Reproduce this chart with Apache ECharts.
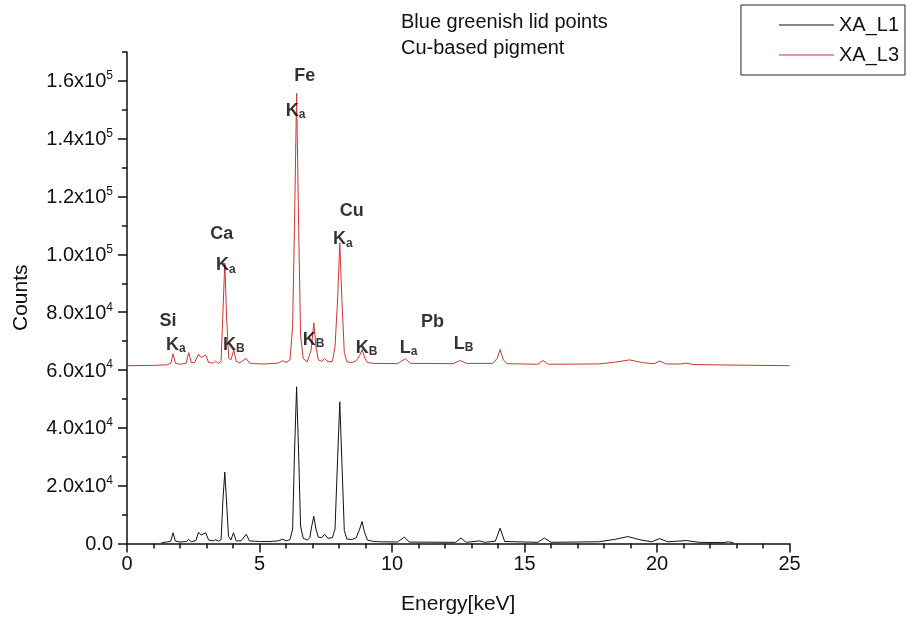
<!DOCTYPE html>
<html>
<head>
<meta charset="utf-8">
<script src="https://cdn.jsdelivr.net/npm/echarts@6/dist/echarts.min.js"></script>
<style>html,body{margin:0;padding:0;background:#fff}#c{width:912px;height:626px}</style>
</head>
<body>
<div id="c"></div>
<script>
// ---- data ----
// XA_L1 spectrum: [energy keV, counts]
var xaL1 = [
  [1.30,300],[1.50,500],[1.65,800],[1.74,3700],[1.82,900],[2.00,500],[2.25,700],[2.33,1400],[2.42,600],
  [2.60,1000],[2.70,3900],[2.80,2900],[2.97,3700],[3.08,1200],[3.25,900],[3.34,1300],[3.45,800],
  [3.55,1300],[3.62,15000],[3.69,24700],[3.76,14000],[3.83,2500],[3.92,1200],[4.02,3700],[4.12,900],
  [4.30,900],[4.50,3200],[4.62,900],[4.80,800],[5.00,700],[5.40,700],[5.70,900],[5.88,1500],[6.00,900],
  [6.15,1300],[6.25,5000],[6.32,31000],[6.40,54200],[6.48,30000],[6.55,6000],[6.65,1800],[6.80,1200],
  [6.90,2000],[6.97,6000],[7.05,9400],[7.13,5000],[7.22,2200],[7.35,2000],[7.46,3200],[7.58,1800],
  [7.75,2000],[7.85,5000],[7.95,30000],[8.03,49000],[8.11,28000],[8.20,4500],[8.30,1500],[8.50,1400],
  [8.65,2000],[8.78,5000],[8.87,7600],[8.96,4000],[9.07,1200],[9.30,700],[9.50,600],[10.20,500],
  [10.47,2200],[10.65,500],[12.40,400],[12.60,1900],[12.80,400],[13.30,900],[13.50,400],[13.90,800],
  [14.08,5300],[14.25,700],[15.50,400],[15.75,1900],[16.00,400],[17.80,600],[18.40,1400],[18.90,2400],
  [19.40,1200],[19.80,600],[20.10,1700],[20.40,600],[21.10,1000],[21.60,400],[22.50,300],[22.70,600],
  [22.90,200]
];
// XA_L3 spectrum: [energy keV, counts]
var xaL3 = [
  [0.00,61500],[1.00,61600],[1.50,61800],[1.65,62300],[1.74,65600],[1.83,62300],[2.00,62000],[2.23,62300],
  [2.33,66000],[2.43,62500],[2.55,62600],[2.70,65400],[2.80,64300],[2.97,65200],[3.08,62600],[3.25,62400],
  [3.34,63100],[3.45,62300],[3.55,63000],[3.62,80000],[3.69,97000],[3.76,78000],[3.84,64000],[3.92,63500],
  [4.03,67000],[4.12,63000],[4.25,62500],[4.50,64000],[4.62,62400],[4.80,62200],[5.20,62100],[5.70,62400],
  [5.88,63200],[6.00,62600],[6.15,63500],[6.25,75000],[6.32,110000],[6.40,155700],[6.48,108000],[6.55,72000],
  [6.65,64000],[6.80,62800],[6.95,67000],[7.05,76300],[7.13,68000],[7.22,63500],[7.35,63000],[7.46,64000],
  [7.58,62800],[7.75,63000],[7.85,68000],[7.95,85000],[8.03,104000],[8.11,84000],[8.20,66000],[8.30,62800],
  [8.50,62600],[8.65,63200],[8.78,65000],[8.87,67100],[8.96,64500],[9.07,62600],[9.30,62300],[10.20,62200],
  [10.50,63900],[10.70,62300],[12.30,62200],[12.58,63300],[12.80,62300],[13.80,62300],[13.97,64000],
  [14.08,67100],[14.20,63500],[14.35,62200],[15.50,62000],[15.70,63300],[15.90,62000],[17.80,62100],
  [18.40,62700],[18.96,63500],[19.50,62500],[19.90,62200],[20.10,63100],[20.35,62100],[20.90,62100],
  [21.07,62400],[21.40,61900],[23.00,61700],[25.00,61500]
];
var seriesNames = ['XA_L1', 'XA_L3'];
var titleLines = ['Blue greenish lid points', 'Cu-based pigment'];
var yMajorTicks = [0, 20000, 40000, 60000, 80000, 100000, 120000, 140000, 160000];
var xTicks = [0, 5, 10, 15, 20, 25];
// peak annotations: element names and emission lines
var elemX = [1.55, 3.58, 6.71, 8.48, 11.53];
var elemY = [77000, 107000, 161800, 115000, 76600];
var elemText = ['Si', 'Ca', 'Fe', 'Cu', 'Pb'];
var lineX = [1.47, 3.36, 3.62, 5.99, 7.77, 6.63, 8.63, 10.29, 12.33];
var lineY = [68500, 96000, 68500, 149500, 105000, 70200, 67400, 67400, 68800];
var lineMain = ['K', 'K', 'K', 'K', 'K', 'K', 'K', 'L', 'L'];
var lineSub = ['a', 'a', 'B', 'a', 'a', 'B', 'B', 'a', 'B'];

var FONT = "'Liberation Sans', Arial, sans-serif";
function fmtY(v) {
  if (v === 0) return '{m|0.0}';
  var e = Math.floor(Math.log10(v) + 1e-9);
  var m = (v / Math.pow(10, e)).toFixed(1);
  return '{m|' + m + 'x10}{e|' + e + '}';
}
var elemData = elemX.map(function (x, i) { return [x, elemY[i], i]; });
var lineData = lineX.map(function (x, i) { return [x, lineY[i], i]; });

var chart = echarts.init(document.getElementById('c'), null, {renderer: 'canvas'});
chart.setOption({
  animation: false,
  backgroundColor: '#fff',
  grid: {left: 127, right: 122.5, top: 52, bottom: 82.5, containLabel: false},
  legend: {
    data: seriesNames,
    orient: 'vertical', right: 7, top: 5,
    padding: [9, 6, 9, 38],
    icon: 'rect',
    itemWidth: 55, itemHeight: 1, itemGap: 8,
    borderColor: '#222', borderWidth: 1, borderRadius: 0,
    textStyle: {fontFamily: FONT, fontSize: 20, color: '#111', lineHeight: 22}
  },
  graphic: [
    {type: 'text', left: 401, top: 12, style: {text: titleLines[0], font: '20px ' + FONT, fill: '#111'}},
    {type: 'text', left: 401, top: 38, style: {text: titleLines[1], font: '20px ' + FONT, fill: '#111'}}
  ],
  xAxis: {
    type: 'value', min: xTicks[0], max: xTicks[xTicks.length - 1], interval: 5,
    name: 'Energy[keV]', nameLocation: 'middle', nameGap: 50,
    nameTextStyle: {fontFamily: FONT, fontSize: 21, color: '#111'},
    axisLine: {show: true, onZero: false, lineStyle: {color: '#111', width: 1.5}},
    axisTick: {show: true, inside: false, length: 9, lineStyle: {color: '#111', width: 1.5}},
    minorTick: {show: true, splitNumber: 5, length: 5, lineStyle: {color: '#111', width: 1.5}},
    axisLabel: {fontFamily: FONT, fontSize: 20, color: '#111', margin: 11},
    splitLine: {show: false}
  },
  yAxis: [{
    type: 'value', min: 0, max: 170000, interval: 10000, position: 'left',
    name: 'Counts', nameLocation: 'middle', nameGap: 95, nameRotate: 90,
    nameTextStyle: {fontFamily: FONT, fontSize: 21, color: '#111'},
    axisLine: {show: true, onZero: false, lineStyle: {color: '#111', width: 1.5}},
    axisTick: {show: true, inside: false, length: 5, lineStyle: {color: '#111', width: 1.5}},
    axisLabel: {
      customValues: yMajorTicks, margin: 14,
      formatter: fmtY,
      rich: {
        m: {fontFamily: FONT, fontSize: 20, color: '#111', lineHeight: 22, verticalAlign: 'bottom'},
        e: {fontFamily: FONT, fontSize: 12, color: '#111', lineHeight: 22, verticalAlign: 'top'}
      }
    },
    splitLine: {show: false}
  }, {
    type: 'value', min: 0, max: 170000, interval: 20000, position: 'left',
    axisLine: {show: false},
    axisTick: {show: true, inside: false, length: 9, customValues: yMajorTicks, lineStyle: {color: '#111', width: 1.5}},
    axisLabel: {show: false},
    splitLine: {show: false}
  }],
  series: [
    {name: seriesNames[0], type: 'line', data: xaL1, yAxisIndex: 0, symbol: 'none', showSymbol: false,
     lineStyle: {color: '#111', width: 1}, itemStyle: {color: '#111'}, z: 3},
    {name: seriesNames[1], type: 'line', data: xaL3, yAxisIndex: 0, symbol: 'none', showSymbol: false,
     lineStyle: {color: '#cf3434', width: 1}, itemStyle: {color: '#cf3434'}, z: 3},
    {type: 'scatter', data: elemData, symbolSize: 0, silent: true, z: 5,
     label: {show: true, position: 'inside', align: 'center', verticalAlign: 'middle',
       formatter: function (p) { return elemText[p.data[2]]; },
       fontFamily: FONT, fontSize: 18, fontWeight: 'bold', color: '#000'}},
    {type: 'scatter', data: lineData, symbolSize: 0, silent: true, z: 5,
     label: {show: true, position: 'inside', align: 'left', verticalAlign: 'middle',
       formatter: function (p) { var i = p.data[2]; return '{k|' + lineMain[i] + '}{s|' + lineSub[i] + '}'; },
       rich: {
         k: {fontFamily: FONT, fontSize: 18, fontWeight: 'bold', color: '#000', lineHeight: 19, verticalAlign: 'top'},
         s: {fontFamily: FONT, fontSize: 12, fontWeight: 'bold', color: '#000', lineHeight: 12, padding: [12, 0, 0, 0], verticalAlign: 'bottom'}
       }}}
  ]
});
</script>
</body>
</html>
